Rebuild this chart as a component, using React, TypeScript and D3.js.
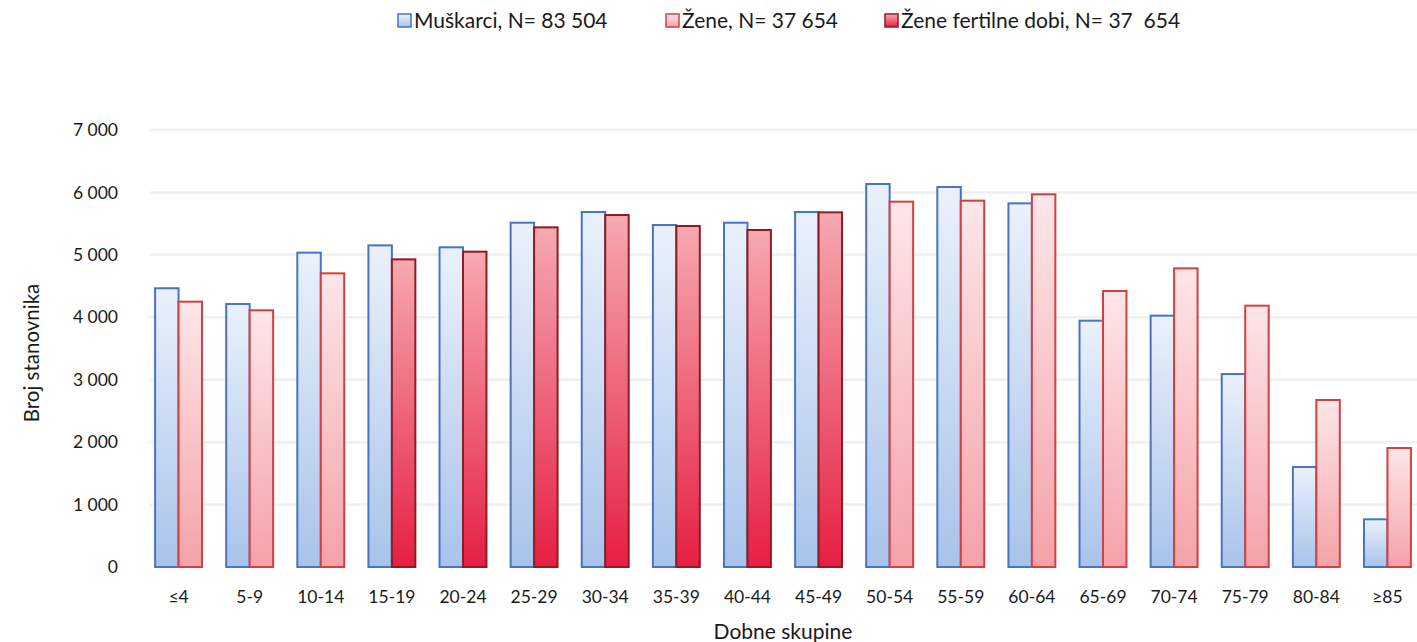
import React, { useEffect, useRef } from 'react';
import * as d3 from 'd3';

// age groups (x categories)
const categories = ['≤4', '5-9', '10-14', '15-19', '20-24', '25-29', '30-34', '35-39', '40-44', '45-49', '50-54', '55-59', '60-64', '65-69', '70-74', '75-79', '80-84', '≥85'];
// men per group
const men = [4465, 4213, 5035, 5152, 5121, 5515, 5686, 5478, 5515, 5686, 6135, 6087, 5825, 3946, 4026, 3091, 1602, 764];
// women per group
const women = [4250, 4112, 4704, 4928, 5051, 5441, 5638, 5462, 5398, 5681, 5852, 5868, 5970, 4421, 4784, 4186, 2675, 1906];
// groups where the women's bar is "fertile age"
const fertileGroups = ['15-19', '20-24', '25-29', '30-34', '35-39', '40-44', '45-49'];
const yTicks = [0, 1000, 2000, 3000, 4000, 5000, 6000, 7000];
const legendLabels = ['Muškarci, N= 83 504', 'Žene, N= 37 654', 'Žene fertilne dobi, N= 37  654'];

const FONT = 'Lato, "Open Sans", sans-serif';

const App = () => {
  const ref = useRef<SVGSVGElement>(null);

  useEffect(() => {
    const svg = d3.select(ref.current);
    svg.selectAll('*').remove();

    const width = 1417;
    const height = 642;

    // gradients
    const defs = svg.append('defs');
    const grad = (id: string, top: string, bottom: string) => {
      const g = defs.append('linearGradient').attr('id', id).attr('x1', 0).attr('y1', 0).attr('x2', 0).attr('y2', 1);
      g.append('stop').attr('offset', '0%').attr('stop-color', top);
      g.append('stop').attr('offset', '100%').attr('stop-color', bottom);
    };
    grad('gMen', '#eaf1fb', '#a8c3ea');
    grad('gWomen', '#fde6e8', '#f4a2a9');
    grad('gFertile', '#f6a9b1', '#e61f44');

    const x = d3.scaleBand<string>().domain(categories).range([143, 1423]).paddingInner(0.34).paddingOuter(0.17);
    const xSub = d3.scaleBand<string>().domain(['m', 'f']).range([0, x.bandwidth()]);
    const y = d3.scaleLinear().domain([0, 7000]).range([567, 130]);

    svg.append('rect').attr('width', width).attr('height', height).attr('fill', '#ffffff');

    // grid lines
    svg.append('g')
      .selectAll('line')
      .data(yTicks.filter((d) => d > 0))
      .join('line')
      .attr('x1', 150)
      .attr('x2', width)
      .attr('y1', (d) => y(d))
      .attr('y2', (d) => y(d))
      .attr('stroke', '#f0f0f0')
      .attr('stroke-width', 2.5);

    // y tick labels
    svg.append('g')
      .selectAll('text')
      .data(yTicks)
      .join('text')
      .attr('x', 118)
      .attr('y', (d) => y(d))
      .attr('dy', '0.35em')
      .attr('text-anchor', 'end')
      .style('font-family', FONT)
      .style('font-size', '17.5px')
      .attr('fill', '#1a1a1a')
      .text((d) => (d === 0 ? '0' : d3.format(',')(d).replace(',', ' ')));

    // bars
    const groups = svg.append('g')
      .selectAll('g')
      .data(categories)
      .join('g')
      .attr('transform', (d) => `translate(${x(d)},0)`);

    groups.append('rect')
      .attr('x', xSub('m')!)
      .attr('y', (_d, i) => y(men[i]))
      .attr('width', xSub.bandwidth())
      .attr('height', (_d, i) => y(0) - y(men[i]))
      .attr('fill', 'url(#gMen)')
      .attr('stroke', '#4a74c2')
      .attr('stroke-width', 2);

    groups.append('rect')
      .attr('x', xSub('f')!)
      .attr('y', (_d, i) => y(women[i]))
      .attr('width', xSub.bandwidth())
      .attr('height', (_d, i) => y(0) - y(women[i]))
      .attr('fill', (d) => (fertileGroups.includes(d) ? 'url(#gFertile)' : 'url(#gWomen)'))
      .attr('stroke', (d) => (fertileGroups.includes(d) ? '#8e1c22' : '#d2403f'))
      .attr('stroke-width', 2);

    // x labels
    svg.append('g')
      .selectAll('text')
      .data(categories)
      .join('text')
      .attr('x', (d) => x(d)! + x.bandwidth() / 2)
      .attr('y', 597)
      .attr('dy', '0.35em')
      .attr('text-anchor', 'middle')
      .style('font-family', FONT)
      .style('font-size', '17.5px')
      .attr('fill', '#1a1a1a')
      .text((d) => d);

    // axis titles
    svg.append('text')
      .attr('x', 783)
      .attr('y', 632)
      .attr('dy', '0.35em')
      .attr('text-anchor', 'middle')
      .style('font-family', FONT)
      .style('font-size', '21px')
      .attr('fill', '#1a1a1a')
      .text('Dobne skupine');

    svg.append('text')
      .attr('transform', 'translate(32,353) rotate(-90)')
      .attr('dy', '0.35em')
      .attr('text-anchor', 'middle')
      .style('font-family', FONT)
      .style('font-size', '20.5px')
      .attr('fill', '#1a1a1a')
      .text('Broj stanovnika');

    // legend
    const legendX = [398, 666, 885];
    const legendFill = ['url(#gMen)', 'url(#gWomen)', 'url(#gFertile)'];
    const legendStroke = ['#4a74c2', '#d2403f', '#8e1c22'];
    const legend = svg.append('g')
      .selectAll('g')
      .data(legendLabels)
      .join('g')
      .attr('transform', (_d, i) => `translate(${legendX[i]},21)`);
    legend.append('rect')
      .attr('x', 0)
      .attr('y', -7)
      .attr('width', 13)
      .attr('height', 13)
      .attr('fill', (_d, i) => legendFill[i])
      .attr('stroke', (_d, i) => legendStroke[i])
      .attr('stroke-width', 1.5);
    legend.append('text')
      .attr('x', 16)
      .attr('dy', '0.35em')
      .style('font-family', FONT)
      .style('font-size', '21px')
      .style('white-space', 'pre')
      .attr('fill', '#1a1a1a')
      .text((d) => d);
  }, []);

  return (
    <svg ref={ref} width={1417} height={642} style={{ position: 'absolute', left: 0, top: 0 }}></svg>
  );
};

export default App;
